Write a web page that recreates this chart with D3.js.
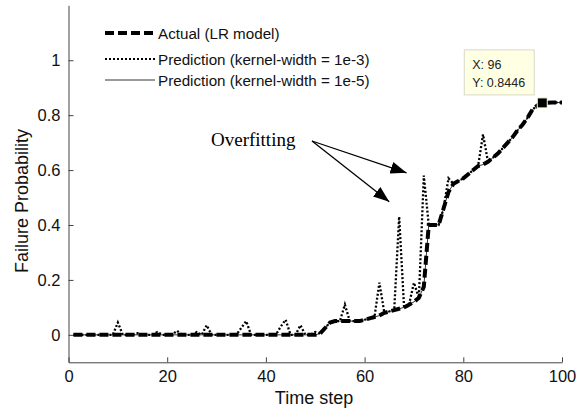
<!DOCTYPE html>
<html>
<head>
<meta charset="utf-8">
<script src="https://cdn.jsdelivr.net/npm/d3@7"></script>
<style>
body{margin:0;background:#fff;}
svg{display:block;}
text{font-family:"Liberation Sans",Arial,sans-serif;}
</style>
</head>
<body>
<svg id="chart" width="585" height="410"></svg>
<script>
// ---- data ----
const timeSteps = d3.range(1, 101);
const actualLR = [
0,0,0,0,0,0,0,0,0,0, 0,0,0,0,0,0,0,0,0,0,
0,0,0,0,0,0,0,0,0,0, 0,0,0,0,0,0,0,0,0,0,
0,0,0,0,0,0,0,0,0,0,
0.005,0.025,0.045,0.05,0.05,0.05,0.05,0.05,0.05,0.055,
0.06,0.065,0.07,0.08,0.085,0.09,0.095,0.1,0.11,0.12,
0.135,0.175,0.4,0.4,0.4,0.46,0.52,0.55,0.56,0.57,
0.585,0.6,0.615,0.62,0.63,0.645,0.66,0.68,0.7,0.72,
0.745,0.765,0.79,0.82,0.835,0.8446,0.845,0.846,0.846,0.846];
const predKw3 = [
0,0,0,0,0,0,0,0,0,0.045, 0,0,0,0.006,0,0,0,0.01,0,0,
0,0.015,0,0,0,0.01,0,0.035,0,0, 0,0,0,0,0.025,0.05,0,0,0,0,
0,0,0.03,0.055,0,0,0.035,0,0,0.01,
0.005,0.025,0.045,0.05,0.05,0.11,0.05,0.05,0.05,0.055,
0.06,0.065,0.19,0.08,0.085,0.09,0.43,0.1,0.11,0.19,
0.135,0.58,0.4,0.4,0.4,0.46,0.57,0.55,0.56,0.57,
0.585,0.6,0.615,0.73,0.63,0.645,0.66,0.68,0.7,0.72,
0.745,0.765,0.79,0.82,0.835,0.8446,0.845,0.846,0.846,0.846];
const predKw5 = [
0,0,0,0,0,0,0,0,0,0, 0,0,0,0,0,0,0,0,0,0,
0,0,0,0,0,0,0,0,0,0, 0,0,0,0,0,0,0,0,0,0,
0,0,0,0,0,0,0,0,0,0,
0.005,0.025,0.045,0.05,0.05,0.05,0.05,0.05,0.05,0.055,
0.06,0.065,0.07,0.08,0.085,0.09,0.095,0.1,0.11,0.12,
0.135,0.175,0.4,0.4,0.4,0.46,0.52,0.55,0.56,0.57,
0.585,0.6,0.615,0.62,0.63,0.645,0.66,0.68,0.7,0.72,
0.745,0.765,0.79,0.82,0.835,0.8446,0.845,0.846,0.846,0.846];
const xTicks = [0, 20, 40, 60, 80, 100];
const yTicks = [0, 0.2, 0.4, 0.6, 0.8, 1];
const seriesNames = ["Actual (LR model)", "Prediction (kernel-width = 1e-3)", "Prediction (kernel-width = 1e-5)"];
const tipPoint = {x: 96, y: 0.8446};

// ---- layout ----
const svg = d3.select("#chart");
const x = d3.scaleLinear().domain([0, 100]).range([68.5, 562]);
const y = d3.scaleLinear().domain([-0.1, 1.2]).range([362.3, 5.3]);

// axes
const xAxis = d3.axisBottom(x).tickValues(xTicks).tickSizeInner(-5).tickSizeOuter(0).tickPadding(8).tickFormat(d3.format("d"));
const yAxis = d3.axisLeft(y).tickValues(yTicks).tickSizeInner(-5).tickSizeOuter(0).tickPadding(8).tickFormat(d => d === 1 ? "1" : d3.format("")(d));
const gx = svg.append("g").attr("transform", `translate(0,${y(-0.1)})`).call(xAxis);
const gy = svg.append("g").attr("transform", `translate(${x(0)},0)`).call(yAxis);
[gx, gy].forEach(g => {
  g.select(".domain").attr("stroke", "#444").attr("stroke-width", 1);
  g.selectAll(".tick line").attr("stroke", "#444");
  g.selectAll(".tick text").attr("fill", "#111").style("font-size", "16.5px").style("font-family", '"Liberation Sans",Arial,sans-serif');
});

svg.append("text").attr("x", 314).attr("y", 404).attr("text-anchor", "middle")
  .style("font-size", "18px").attr("fill", "#111").text("Time step");
svg.append("text").attr("transform", "translate(28,201) rotate(-90)").attr("text-anchor", "middle")
  .style("font-size", "18px").attr("fill", "#111").text("Failure Probability");

// lines
const line = d3.line().x((d, i) => x(timeSteps[i])).y(d => y(d));
svg.append("path").datum(predKw5).attr("d", line).attr("fill", "none")
  .attr("stroke", "#000").attr("stroke-width", 0.8);
svg.append("path").datum(predKw3).attr("d", line).attr("fill", "none")
  .attr("stroke", "#000").attr("stroke-width", 2.3).attr("stroke-dasharray", "2,2");
svg.append("path").datum(actualLR).attr("d", line).attr("fill", "none")
  .attr("stroke", "#000").attr("stroke-width", 4).attr("stroke-dasharray", "9,4");

// legend
const legY = [33, 59, 80];
const legStyles = [
  {w: 4, dash: "9,4"},
  {w: 2, dash: "2,2"},
  {w: 0.8, dash: null}
];
seriesNames.forEach((name, i) => {
  const l = svg.append("line").attr("x1", 105).attr("x2", 155).attr("y1", legY[i]).attr("y2", legY[i])
    .attr("stroke", "#000").attr("stroke-width", legStyles[i].w);
  if (legStyles[i].dash) l.attr("stroke-dasharray", legStyles[i].dash);
  svg.append("text").attr("x", 158).attr("y", legY[i] + 5.5).style("font-size", "15.2px").attr("fill", "#111").text(name);
});

// annotation
const defs = svg.append("defs");
defs.append("marker").attr("id", "ah").attr("viewBox", "0 0 16 12").attr("refX", 16).attr("refY", 6)
  .attr("markerWidth", 16).attr("markerHeight", 12).attr("markerUnits", "userSpaceOnUse").attr("orient", "auto")
  .append("path").attr("d", "M0,0 L16,6 L0,12 Z").attr("fill", "#000");
svg.append("text").attr("x", 211).attr("y", 146).style("font-family", '"Liberation Serif","Times New Roman",serif')
  .style("font-size", "19px").attr("fill", "#000").text("Overfitting");
svg.append("line").attr("x1", 312).attr("y1", 141).attr("x2", x(68.5)).attr("y2", y(0.59))
  .attr("stroke", "#000").attr("stroke-width", 1.3).attr("marker-end", "url(#ah)");
svg.append("line").attr("x1", 312).attr("y1", 141).attr("x2", x(65)).attr("y2", y(0.485))
  .attr("stroke", "#000").attr("stroke-width", 1.3).attr("marker-end", "url(#ah)");

// data tip
svg.append("rect").attr("x", x(tipPoint.x) - 5).attr("y", y(tipPoint.y) - 5).attr("width", 10).attr("height", 10)
  .attr("fill", "#000").attr("stroke", "#ffffd0").attr("stroke-width", 1);
const tip = svg.append("g").attr("transform", `translate(${x(tipPoint.x) - 78},${y(tipPoint.y) - 53})`);
tip.append("rect").attr("width", 70).attr("height", 45).attr("fill", "#ffffe4").attr("stroke", "#d8d8c8");
tip.append("text").attr("x", 8).attr("y", 19).style("font-size", "12.5px").attr("fill", "#222").text("X: " + tipPoint.x);
tip.append("text").attr("x", 8).attr("y", 37).style("font-size", "12.5px").attr("fill", "#222").text("Y: " + tipPoint.y);
</script>
</body>
</html>
